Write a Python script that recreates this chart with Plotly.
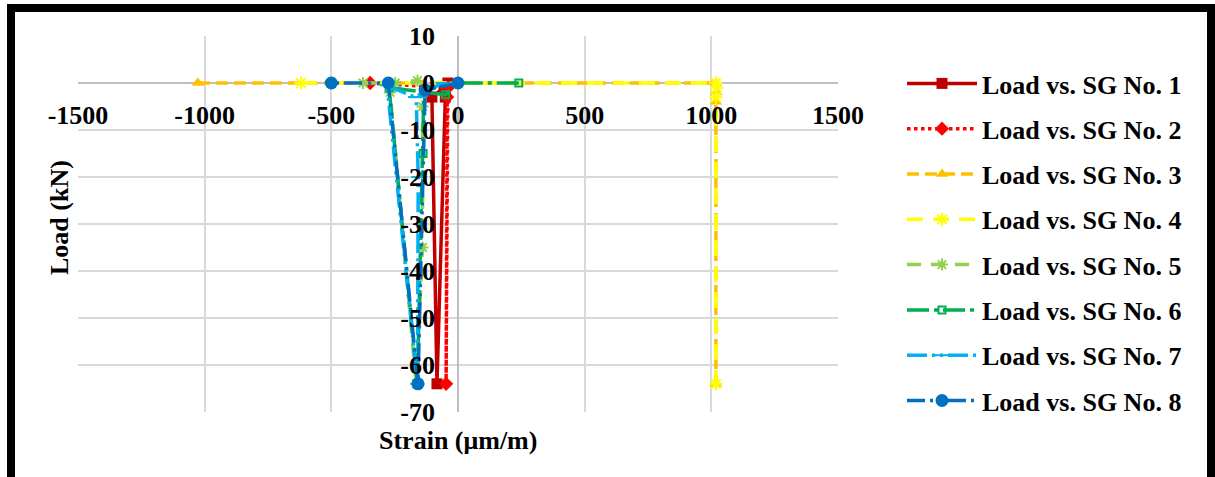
import plotly.graph_objects as go

# ---------------- data ----------------
series_names = [f"Load vs. SG No. {i}" for i in range(1, 9)]

sg1_strain = [-40, -50, -83, -103, -55]
sg1_load = [0, -3, -64, -3, -1]

sg2_strain = [-347, -40, -47, -43]
sg2_load = [0, -1, -64, -3]

sg3_strain = [-1027, 1018, 1020, 1018, 1018]
sg3_load = [0, 0, -2, -4, -64]

sg4_strain = [-620, 1018, 1022, 1018, 1018]
sg4_load = [0, 0, -1, -3, -64]

sg5_strain = [-375, -248, -160, -268, -165, -140, -140]
sg5_load = [0, 0, 0.5, -2, -64, -35, -5]

sg6_strain = [240, 0, -50, -272, -160, -138, -135]
sg6_load = [0, 0, -2.5, -1, -64, -15, -2]

sg7_strain = [-60, -170, -280, -160, -157, -165]
sg7_load = [0, -3, -0.5, -64, -20, -3]

sg8_strain = [0, -130, -158, -275, -500]
sg8_load = [0, -1.5, -64, 0, 0]

x_tickvals = [-1500, -1000, -500, 0, 500, 1000, 1500]
x_ticktext = ["-1500", "-1000", "-500", "0", "500", "1000", "1500"]
y_tickvals = [10, 0, -10, -20, -30, -40, -50, -60, -70]
y_ticktext = ["10", "0", "-10", "-20", "-30", "-40", "-50", "-60", "-70"]

x_range = [-1500, 1500]
y_range = [-70, 10]

# ---------------- styles ----------------
colors = ["#C00000", "#FF0000", "#FFC000", "#FFFF00", "#92D050", "#00B050", "#00B0F0", "#0070C0"]
dashes = ["solid", "dot", "12px,6px", "16px,10px", "14px,10px",
          "22px,5px,4px,5px", "20px,5px,3px,5px,3px,5px", "18px,5px,3px,6px,3px,6px"]
symbols = ["square", "diamond", "triangle-up", "asterisk-open", "asterisk-open",
           "square-open", "line-ew-open", "circle"]
msizes = [11, 11, 11, 11, 10, 7, 10, 13]

data = [
    (sg1_strain, sg1_load), (sg2_strain, sg2_load), (sg3_strain, sg3_load),
    (sg4_strain, sg4_load), (sg5_strain, sg5_load), (sg6_strain, sg6_load),
    (sg7_strain, sg7_load), (sg8_strain, sg8_load),
]

W, H = 1215, 477
PL, PR, PT, PB = 78, 838, 36, 412  # plot area in px


def px_x(px):
    return (px - PL) / (PR - PL)


def px_y(py):
    return (PB - py) / (PB - PT)


FONT = "Liberation Serif, Times New Roman, serif"
FS = 26

fig = go.Figure()
for i, (xs, ys) in enumerate(data):
    open_sym = symbols[i].endswith("-open")
    marker = dict(symbol=symbols[i], size=msizes[i], color=colors[i],
                  line=dict(color=colors[i], width=2 if open_sym else 0))
    fig.add_trace(go.Scatter(
        x=xs, y=ys, mode="lines+markers", name=series_names[i],
        legendgroup=f"g{i}",
        line=dict(color=colors[i], width=3.5, dash=dashes[i]),
        marker=marker,
    ))

fig.update_layout(
    width=W, height=H,
    margin=dict(l=PL, r=W - PR, t=PT, b=H - PB, pad=0),
    paper_bgcolor="white", plot_bgcolor="white",
    font=dict(family=FONT, size=FS, color="black", weight="bold"),
    showlegend=True,
    legend=dict(x=px_x(902), y=px_y(60), xanchor="left", yanchor="top",
                font=dict(family=FONT, size=FS, color="black", weight="bold"),
                bgcolor="rgba(0,0,0,0)", tracegroupgap=8.5, itemwidth=70,
                traceorder="grouped"),
    xaxis=dict(range=x_range, tickvals=x_tickvals, ticktext=x_ticktext,
               showgrid=True, gridcolor="#D9D9D9", gridwidth=2,
               zeroline=True, zerolinecolor="#BFBFBF", zerolinewidth=2,
               showline=False, ticks="", anchor="free",
               position=(0 - y_range[0]) / (y_range[1] - y_range[0]),
               ticklabelstandoff=14,
               tickfont=dict(family=FONT, size=FS, color="black", weight="bold")),
    yaxis=dict(range=y_range, tickvals=y_tickvals, ticktext=y_ticktext,
               showgrid=True, gridcolor="#D9D9D9", gridwidth=2,
               zeroline=True, zerolinecolor="#BFBFBF", zerolinewidth=2,
               showline=False, ticks="", anchor="free",
               position=(0 - x_range[0]) / (x_range[1] - x_range[0]),
               ticklabelstandoff=23,
               tickfont=dict(family=FONT, size=FS, color="black", weight="bold")),
    annotations=[
        dict(text="Strain (μm/m)", xref="paper", yref="paper", x=px_x(458), y=px_y(440),
             xanchor="center", yanchor="middle", showarrow=False,
             font=dict(family=FONT, size=FS, color="black", weight="bold")),
        dict(text="Load (kN)", xref="paper", yref="paper", x=px_x(59), y=px_y(218),
             xanchor="center", yanchor="middle", showarrow=False, textangle=-90,
             font=dict(family=FONT, size=FS, color="black", weight="bold")),
    ],
    shapes=[
        dict(type="rect", xref="paper", yref="paper",
             x0=px_x(11), x1=px_x(1211), y0=px_y(520), y1=px_y(8),
             line=dict(color="black", width=8), fillcolor="rgba(0,0,0,0)"),
    ],
)

fig.write_html("out.html", config={"displayModeBar": False},
               post_script="document.body.style.margin='0px';")
